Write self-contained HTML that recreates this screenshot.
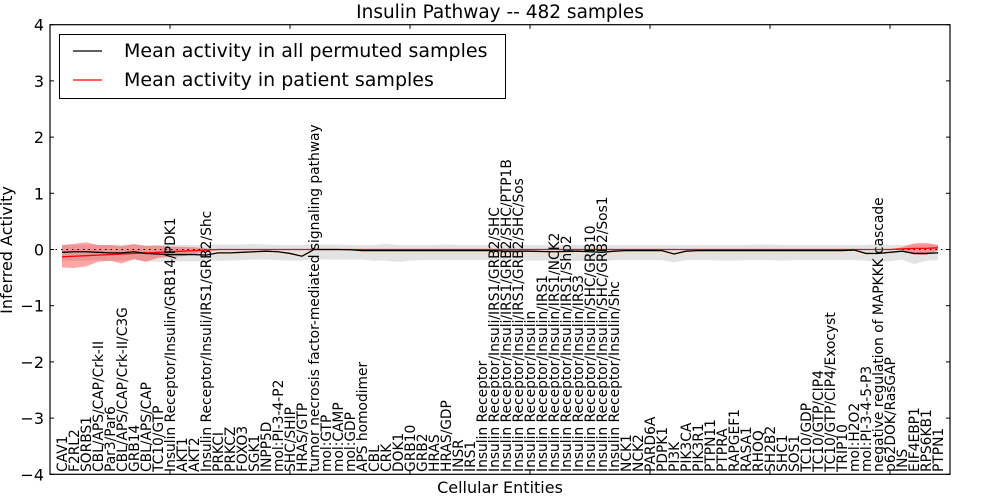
<!DOCTYPE html>
<html><head><meta charset="utf-8"><style>
html,body{margin:0;padding:0;background:#fff;}
svg{display:block;font-family:"DejaVu Sans","Liberation Sans",sans-serif;}
</style></head><body>
<svg id="chart" width="1000" height="500" viewBox="0 0 1000 500" xmlns="http://www.w3.org/2000/svg">
<rect x="0" y="0" width="1000" height="500" fill="#fff"/>
<text x="500" y="18" font-size="18.5" text-anchor="middle">Insulin Pathway -- 482 samples</text>
<g id="bands"></g><g id="lines"></g><g id="xlabels"></g><g id="axes"></g>
<text x="500" y="493" font-size="16" text-anchor="middle">Cellular Entities</text>
<text transform="translate(12,250) rotate(-90)" font-size="16" text-anchor="middle">Inferred Activity</text>
<g>
<rect x="59.5" y="34.5" width="446" height="64" fill="#fff" stroke="#000" stroke-width="1"/>
<line x1="73" y1="51" x2="102" y2="51" stroke="#000" stroke-width="1.2"/>
<text x="124" y="57" font-size="19">Mean activity in all permuted samples</text>
<line x1="73" y1="80" x2="102" y2="80" stroke="#f00" stroke-width="1.2"/>
<text x="124" y="86" font-size="19">Mean activity in patient samples</text>
</g>
</svg>
<script>
const categories = ["CAV1","F2RL2","SORBS1","CBL/APS/CAP/Crk-II","Par3/Par6","CBL/APS/CAP/Crk-II/C3G","GRB14","CBL/APS/CAP","TC10/GTP","Insulin Receptor/Insulin/GRB14/PDK1","AKT1","AKT2","Insulin Receptor/Insuli/IRS1/GRB2/Shc","PRKCI","PRKCZ","FOXO3","SGK1","INPP5D","mol:PI-3-4-P2","SHC/SHIP","HRAS/GTP","tumor necrosis factor-mediated signaling pathway","mol:GTP","mol:CAMP","mol:GDP","APS homodimer","CBL","CRK","DOK1","GRB10","GRB2","HRAS","HRAS/GDP","INSR","IRS1","Insulin Receptor","Insulin Receptor/Insuli/IRS1/GRB2/SHC","Insulin Receptor/Insuli/IRS1/GRB2/SHC/PTP1B","Insulin Receptor/Insuli/IRS1/GRB2/SHC/Sos","Insulin Receptor/Insulin","Insulin Receptor/Insulin/IRS1","Insulin Receptor/Insulin/IRS1/NCK2","Insulin Receptor/Insulin/IRS1/Shp2","Insulin Receptor/Insulin/IRS3","Insulin Receptor/Insulin/SHC/GRB10","Insulin Receptor/Insulin/SHC/GRB2/Sos1","Insulin Receptor/Insulin/Shc","NCK1","NCK2","PARD6A","PDPK1","PI3K","PIK3CA","PIK3R1","PTPN11","PTPRA","RAPGEF1","RASA1","RHOQ","SH2B2","SHC1","SOS1","TC10/GDP","TC10/GTP/CIP4","TC10/GTP/CIP4/Exocyst","TRIP10","mol:H2O2","mol:PI-3-4-5-P3","negative regulation of MAPKKK cascade","p62DOK/RasGAP","INS","EIF4EBP1","RPS6KB1","PTPN1"];
const permMean = [-0.05,-0.04,-0.04,-0.05,-0.06,-0.06,-0.04,-0.07,-0.08,-0.09,-0.09,-0.09,-0.1,-0.06,-0.06,-0.05,-0.04,-0.03,-0.04,-0.07,-0.12,0,0,0,-0.005,-0.02,-0.02,-0.02,-0.02,-0.02,-0.02,-0.02,-0.02,-0.02,-0.02,-0.02,-0.02,-0.03,-0.03,-0.03,-0.035,-0.04,-0.035,-0.03,-0.04,-0.05,-0.03,-0.02,-0.02,-0.02,-0.02,-0.08,-0.03,-0.02,-0.02,-0.02,-0.02,-0.02,-0.02,-0.02,-0.02,-0.02,-0.02,-0.02,-0.02,-0.02,-0.01,-0.07,-0.07,-0.05,-0.03,-0.07,-0.07,-0.06];
const permUpper = [0.08,0.08,0.09,0.08,0.08,0.09,0.08,0.08,0.08,0.08,0.08,0.08,0.08,0.09,0.09,0.09,0.1,0.09,0.08,0.08,0.08,0.09,0.09,0.09,0.08,0.08,0.08,0.1,0.08,0.08,0.08,0.08,0.09,0.08,0.08,0.08,0.08,0.08,0.08,0.08,0.08,0.08,0.08,0.08,0.08,0.08,0.08,0.08,0.08,0.08,0.08,0.08,0.08,0.08,0.08,0.08,0.08,0.08,0.09,0.09,0.08,0.08,0.08,0.08,0.08,0.08,0.08,0.08,0.1,0.08,0.08,0.09,0.09,0.09];
const permLower = [-0.2,-0.2,-0.2,-0.19,-0.2,-0.2,-0.19,-0.21,-0.22,-0.21,-0.21,-0.21,-0.21,-0.2,-0.2,-0.19,-0.18,-0.18,-0.19,-0.2,-0.2,-0.17,-0.18,-0.18,-0.18,-0.18,-0.2,-0.2,-0.22,-0.2,-0.19,-0.19,-0.19,-0.19,-0.19,-0.19,-0.19,-0.2,-0.2,-0.2,-0.2,-0.2,-0.21,-0.2,-0.2,-0.21,-0.19,-0.19,-0.19,-0.19,-0.19,-0.23,-0.19,-0.19,-0.19,-0.2,-0.2,-0.19,-0.19,-0.19,-0.2,-0.19,-0.19,-0.19,-0.19,-0.19,-0.19,-0.2,-0.22,-0.21,-0.18,-0.26,-0.2,-0.19];
const patMean = [-0.13,-0.12,-0.11,-0.1,-0.09,-0.08,-0.07,-0.06,-0.05,-0.04,-0.03,-0.02,-0.01,0,0,0,0,0,0,0,0,0,0,0,0,0,0,0,0,0,0,0,0,0,0,0,0,0,0,0,0,0,0,0,0,0,0,0,0,0,0,0,0,0,0,0,0,0,0,0,0,0,0,0,0,0,0,0,0,0,0.01,0.02,0.02,0.03];
const patUpper = [0.08,0.1,0.13,0.08,0.08,0.06,0.1,0.06,0.07,0.05,0.05,0.04,0.02,0.005,0.005,0.005,0.005,0.005,0.005,0.005,0.005,0.005,0.005,0.005,0.005,0.005,0.005,0.005,0.005,0.005,0.005,0.005,0.005,0.005,0.005,0.005,0.005,0.005,0.005,0.005,0.005,0.005,0.005,0.005,0.005,0.005,0.005,0.005,0.005,0.005,0.005,0.005,0.005,0.005,0.005,0.005,0.005,0.005,0.005,0.005,0.005,0.005,0.005,0.005,0.005,0.005,0.005,0.005,0.005,0.005,0.04,0.11,0.12,0.08];
const patLower = [-0.32,-0.33,-0.3,-0.22,-0.2,-0.25,-0.17,-0.22,-0.15,-0.13,-0.12,-0.09,-0.03,-0.005,-0.005,-0.005,-0.005,-0.005,-0.005,-0.005,-0.005,-0.005,-0.005,-0.005,-0.005,-0.005,-0.005,-0.005,-0.005,-0.005,-0.005,-0.005,-0.005,-0.005,-0.005,-0.005,-0.005,-0.005,-0.005,-0.005,-0.005,-0.005,-0.005,-0.005,-0.005,-0.005,-0.005,-0.005,-0.005,-0.005,-0.005,-0.005,-0.005,-0.005,-0.005,-0.005,-0.005,-0.005,-0.005,-0.005,-0.005,-0.005,-0.005,-0.005,-0.005,-0.005,-0.005,-0.005,-0.005,-0.005,-0.01,-0.09,-0.1,-0.02];
const yTicks = [-4,-3,-2,-1,0,1,2,3,4];
const xTicks = [0,10,20,30,40,50,60,70];

const NS = "http://www.w3.org/2000/svg";
const L = 50, R = 950, T = 24.7, B = 474.3;
const xMin = 0, xMax = 75, yMin = -4, yMax = 4;
function xs(v){ return L + (v - xMin) / (xMax - xMin) * (R - L); }
function ys(v){ return B - (v - yMin) / (yMax - yMin) * (B - T); }
function mk(tag, attrs, parent){ const e = document.createElementNS(NS, tag); for (const k in attrs) e.setAttribute(k, attrs[k]); parent.appendChild(e); return e; }
function linePath(arr){ return arr.map((v,i)=>(i?"L":"M")+xs(i+1).toFixed(2)+","+ys(v).toFixed(2)).join(""); }
function bandPath(up, lo){
  let d = up.map((v,i)=>(i?"L":"M")+xs(i+1).toFixed(2)+","+ys(v).toFixed(2)).join("");
  for (let i = lo.length-1; i >= 0; i--) d += "L"+xs(i+1).toFixed(2)+","+ys(lo[i]).toFixed(2);
  return d + "Z";
}
const bands = document.getElementById("bands");
const lines = document.getElementById("lines");
const xl = document.getElementById("xlabels");
const axes = document.getElementById("axes");

const gb = mk("path", {d: bandPath(permUpper, permLower), fill: "#e3e3e3", stroke: "none"}, bands);


const rb = mk("path", {d: bandPath(patUpper, patLower), fill: "#f00", "fill-opacity": "0.35", stroke: "none"}, bands);



const zl = mk("line", {x1: L, x2: R, y1: ys(0), y2: ys(0), stroke: "#000", "stroke-width": "1", "stroke-dasharray": "1.5,4"}, lines);


const pl = mk("path", {d: linePath(patMean), fill: "none", stroke: "#f00", "stroke-width": "1.3"}, lines);


const bl = mk("path", {d: linePath(permMean), fill: "none", stroke: "#000", "stroke-width": "1.3"}, lines);



categories.forEach((c,i)=>{
  const x = xs(i+1) + 4.8, y = 472;
  const t = mk("text", {transform: "translate("+x.toFixed(2)+","+y+") rotate(-90)", "font-size": "13.8"}, xl);
  t.textContent = c;
  
  
});

const frame = mk("rect", {x: L, y: T, width: R-L, height: B-T, fill: "none", stroke: "#000", "stroke-width": "1.2"}, axes);


yTicks.forEach(v=>{
  const y = ys(v);
  mk("line", {x1: L, x2: L+4, y1: y, y2: y, stroke: "#000"}, axes);
  mk("line", {x1: R-4, x2: R, y1: y, y2: y, stroke: "#000"}, axes);
  const t = mk("text", {x: L-6, y: y+6, "font-size": "16", "text-anchor": "end"}, axes);
  t.textContent = v < 0 ? "\u2212" + Math.abs(v) : String(v);
  
  
});
xTicks.forEach(v=>{
  const x = xs(v);
  mk("line", {x1: x, x2: x, y1: T, y2: T+4, stroke: "#000"}, axes);
  mk("line", {x1: x, x2: x, y1: B-4, y2: B, stroke: "#000"}, axes);
});
</script>
</body></html>
